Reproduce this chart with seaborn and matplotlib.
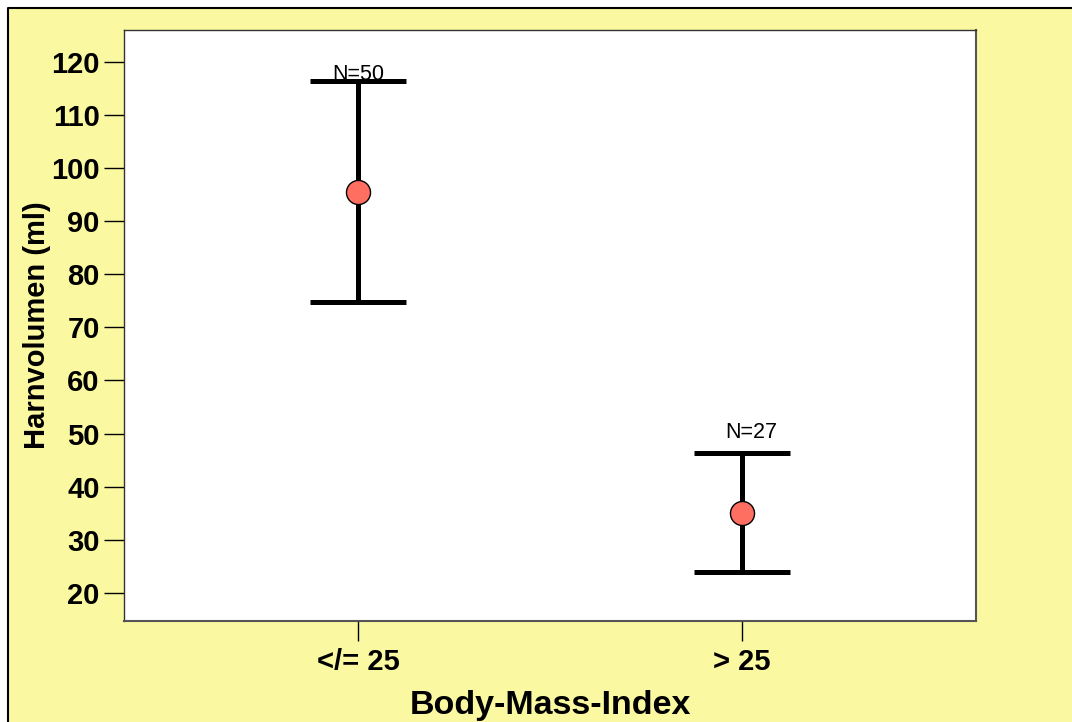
import numpy as np
import pandas as pd
import matplotlib
matplotlib.use("Agg")
import matplotlib.pyplot as plt
from matplotlib.patches import Rectangle
from matplotlib.lines import Line2D
import seaborn as sns

# summary values
groups = ["</= 25", "> 25"]
means = [95.5, 35.0]
upper = [116.4, 46.4]
lower = [74.8, 23.9]
n_labels = ["N=50", "N=27"]
y_ticks = [20, 30, 40, 50, 60, 70, 80, 90, 100, 110, 120]

sns.set_theme(style="white")
plt.rcParams["font.family"] = ["Liberation Sans", "DejaVu Sans"]
plt.rcParams["text.color"] = "black"
plt.rcParams["axes.labelcolor"] = "black"
plt.rcParams["xtick.color"] = "black"
plt.rcParams["ytick.color"] = "black"

df = pd.DataFrame({"bmi": groups, "mean": means, "hi": upper, "lo": lower})

fig = plt.figure(figsize=(10.72, 7.22), dpi=100)
fig.patch.set_facecolor("white")
x0, y0 = 8 / 1072, 1 - 8 / 722
fig.patches.append(Rectangle((x0, 0), 1 - x0, y0, transform=fig.transFigure,
                             facecolor="#faf8a0", edgecolor="none", zorder=-10))
fig.lines.append(Line2D([x0, x0, 1], [0, y0, y0], transform=fig.transFigure,
                        color="black", linewidth=1.5, zorder=-9))

ax = fig.add_axes([124 / 1072, (722 - 621) / 722, (976 - 124) / 1072, (621 - 30) / 722])
ax.set_zorder(2)
ax.set_facecolor("white")

pos = np.arange(len(groups))
cap = 0.125
ax.vlines(pos, df["lo"], df["hi"], color="black", linewidth=3.6, zorder=2)
ax.hlines(df["hi"], pos - cap, pos + cap, color="black", linewidth=3.6, zorder=2)
ax.hlines(df["lo"], pos - cap, pos + cap, color="black", linewidth=3.6, zorder=2)

sns.scatterplot(data=df, x=pos, y="mean", ax=ax, s=300, color="#ff6f61",
                edgecolor="black", linewidth=1, zorder=3, legend=False)

# N labels
ax.text(pos[0], df["hi"][0] - 0.7, n_labels[0], ha="center", va="bottom",
        fontsize=15.5, color="black", zorder=1)
ax.text(pos[1] + 0.025, df["hi"][1] + 1.9, n_labels[1], ha="center", va="bottom",
        fontsize=15.5, color="black")

ax.set_xlim(-0.611, 1.611)
ax.set_ylim(14.7, 126.0)
ax.set_xticks(pos)
ax.set_xticklabels(groups)
ax.set_yticks(y_ticks)

ax.tick_params(axis="y", direction="out", length=14.5, width=1, color="black",
               labelcolor="black", labelsize=21, pad=3, left=True)
ax.tick_params(axis="x", direction="out", length=14.5, width=1, color="black",
               labelcolor="black", labelsize=21, pad=5, bottom=True)
for lab in ax.get_xticklabels() + ax.get_yticklabels():
    lab.set_fontweight("bold")

ax.set_xlabel("Body-Mass-Index", fontsize=24.5, fontweight="bold",
              color="black", labelpad=10)
ax.set_ylabel("Harnvolumen (ml)", fontsize=21, fontweight="bold",
              color="black", labelpad=0)

for side in ["left", "top"]:
    ax.spines[side].set_color("#333333")
    ax.spines[side].set_linewidth(1)
for side in ["right", "bottom"]:
    ax.spines[side].set_color("#555555")
    ax.spines[side].set_linewidth(1.5)

fig.savefig("out.png", dpi=100, facecolor=fig.get_facecolor())
